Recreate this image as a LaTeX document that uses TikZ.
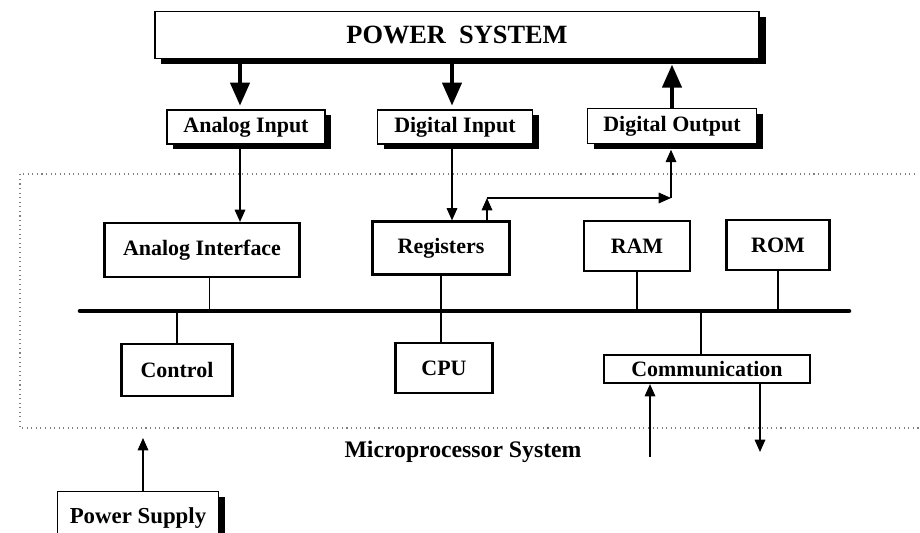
\documentclass[tikz,border=0pt]{standalone}
\usepackage{fontspec}
\setmainfont{Liberation Serif}
\usetikzlibrary{arrows.meta,shadows}

\begin{document}
\begin{tikzpicture}[x=0.02cm,y=-0.02cm,line width=0.9pt,
                    >={Triangle[width=6pt,length=7pt]},
                    font=\bfseries\fontsize{12.5}{14}\selectfont]

  \tikzstyle{io}=[rectangle,draw,line width=1.1pt,fill=white,inner sep=0pt,
                  drop shadow={opacity=1,fill=black,shadow xshift=3.5pt,shadow yshift=-3pt}]
  \tikzstyle{unit}=[rectangle,draw,line width=1.2pt,inner sep=0pt]
  \tikzstyle{fat}=[line width=1.8pt,-{Triangle[width=11pt,length=13pt]}]

  \useasboundingbox (0,0) rectangle (920,533);

  % outside the microprocessor
  \node[io,minimum width=12.1cm,minimum height=0.94cm,
        font=\bfseries\fontsize{15}{18}\selectfont] (PS) at (457,35) {POWER\ \ SYSTEM};
  \node[io,minimum width=3.16cm,minimum height=0.68cm] (AI) at (246,127) {Analog Input};
  \node[io,minimum width=3.1cm,minimum height=0.68cm]  (DI) at (455,127) {Digital Input};
  \node[io,minimum width=3.38cm,minimum height=0.7cm]  (DO) at (672,126) {Digital Output};
  \node[io,minimum width=3.22cm,minimum height=1.06cm,
        font=\bfseries\fontsize{13}{15}\selectfont] (PSU) at (138,518) {Power Supply};

  % microprocessor system
  \draw[dotted,line width=0.6pt,gray] (915,174) -- (20,174) -- (20,428) -- (920,428);
  \node[font=\bfseries\fontsize{13.5}{16}\selectfont] (MPS) at (463,452) {Microprocessor System};

  \node[unit,minimum width=3.9cm,minimum height=1.08cm]  (AIF) at (202,250) {Analog Interface};
  \node[unit,minimum width=2.74cm,minimum height=1.06cm] (REG) at (441,248) {Registers};
  \node[unit,minimum width=2.12cm,minimum height=1cm]    (RAM) at (637,246) {RAM};
  \node[unit,minimum width=2.06cm,minimum height=1cm]    (ROM) at (778,245) {ROM};
  \node[unit,minimum width=2.22cm,minimum height=1.04cm] (CTL) at (177,370) {Control};
  \node[unit,minimum width=1.94cm,minimum height=1cm]    (CPU) at (444,368) {CPU};
  \node[unit,minimum width=4.12cm,minimum height=0.56cm] (COM) at (707,369) {Communication};

  % bus
  \coordinate (busL) at (80,311);
  \coordinate (busR) at (849,311);
  \draw[line width=2.6pt,line cap=round] (busL) -- (busR);

  \draw ([xshift=0.15cm]AIF.south) -- ([xshift=0.15cm]AIF.south |- busL);
  \draw (REG.south) -- (REG.south |- busL);
  \draw (RAM.south) -- (RAM.south |- busL);
  \draw (ROM.south) -- (ROM.south |- busL);
  \draw (CTL.north) -- (CTL.north |- busL);
  \draw (REG.south |- CPU.north) -- (REG.south |- busL);
  \draw ([xshift=-0.12cm]COM.north) -- ([xshift=-0.12cm]COM.north |- busL);

  % power system signals
  \draw[fat,shorten >=2pt] ([xshift=-0.12cm]AI.north |- PS.south) -- ([xshift=-0.12cm]AI.north);
  \draw[fat,shorten >=2pt] ([xshift=-0.06cm]DI.north |- PS.south) -- ([xshift=-0.06cm]DI.north);
  \draw[fat] (DO.north) -- ([yshift=-3pt]DO.north |- PS.south);

  \draw[->] ([xshift=-0.12cm]AI.south) -- ([xshift=-0.12cm]AI.south |- AIF.north);
  \draw[->] ([xshift=-0.06cm]DI.south) -- ([xshift=-0.06cm]DI.south |- REG.north);

  \coordinate (rUp) at (487,198);
  \coordinate (jn)  at (671,198);
  \draw[->] (rUp |- REG.north) -- (rUp);
  \draw[->] (rUp) -- (jn);
  \draw[->] (jn) -- ([yshift=-3pt]jn |- DO.south);

  % communication and supply
  \coordinate (cIn)  at (650,457);
  \coordinate (cOut) at (760,452);
  \coordinate (psTip) at (143,438);
  \draw[->] (cIn) -- (cIn |- COM.south);
  \draw[->] (cOut |- COM.south) -- (cOut);
  \draw[->] (psTip |- PSU.north) -- (psTip);
\end{tikzpicture}
\end{document}
